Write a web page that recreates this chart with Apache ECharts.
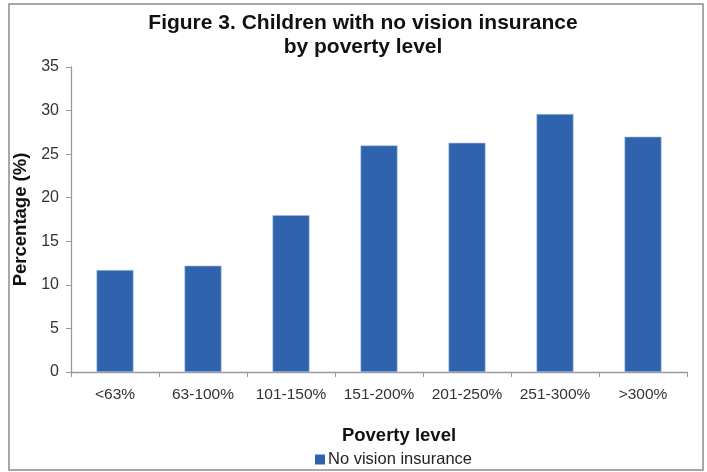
<!DOCTYPE html>
<html>
<head>
<meta charset="utf-8">
<script src="https://cdn.jsdelivr.net/npm/echarts@6/dist/echarts.min.js"></script>
<style>
html,body{margin:0;padding:0;background:#fff;}
#c{width:707px;height:472px;}
</style>
</head>
<body>
<div id="c"></div>
<script>
const categories = ['<63%', '63-100%', '101-150%', '151-200%', '201-250%', '251-300%', '>300%'];
const noVisionInsurance = [11.7, 12.2, 18.0, 26.0, 26.3, 29.6, 27.0];
const seriesName = 'No vision insurance';

const chart = echarts.init(document.getElementById('c'), null, {renderer: 'canvas'});
const font = '"Liberation Sans", Arial, sans-serif';
chart.setOption({
  animation: false,
  textStyle: {fontFamily: font},
  graphic: [{
    type: 'rect',
    shape: {x: 9, y: 4, width: 694, height: 466},
    style: {fill: 'none', stroke: '#8c8c8c', lineWidth: 1.5},
    silent: true
  }],
  title: [{
    text: 'Figure 3. Children with no vision insurance\nby poverty level',
    left: 358, top: 6, textAlign: 'center',
    textStyle: {fontFamily: font, fontSize: 21, fontWeight: 'bold', color: '#111', lineHeight: 24, align: 'center'}
  }, {
    text: 'Poverty level',
    left: 394, top: 421, textAlign: 'center',
    textStyle: {fontFamily: font, fontSize: 18.5, fontWeight: 'bold', color: '#111'}
  }],
  legend: {
    data: [seriesName],
    left: 310, top: 446,
    itemWidth: 10, itemHeight: 10, itemGap: 4,
    icon: 'rect',
    itemStyle: {borderWidth: 0},
    textStyle: {fontFamily: font, fontSize: 16.5, color: '#222', padding: [0,0,0,-2]}
  },
  grid: {left: 71, right: 20, top: 67, bottom: 100, containLabel: false},
  xAxis: {
    type: 'category',
    data: categories,
    axisLine: {lineStyle: {color: '#999', width: 1.3}},
    axisTick: {show: true, alignWithLabel: false, length: 5, lineStyle: {color: '#999'}},
    axisLabel: {fontFamily: font, fontSize: 15.5, color: '#333', margin: 15, interval: 0}
  },
  yAxis: {
    type: 'value',
    min: 0, max: 35, interval: 5,
    name: 'Percentage (%)',
    nameLocation: 'middle', nameGap: 32, nameRotate: 90,
    nameTextStyle: {fontFamily: font, fontSize: 18.5, fontWeight: 'bold', color: '#111'},
    axisLine: {show: true, lineStyle: {color: '#999', width: 1.3}},
    axisTick: {show: true, length: 5, lineStyle: {color: '#999'}},
    splitLine: {show: false},
    axisLabel: {fontFamily: font, fontSize: 16, color: '#333', margin: 12}
  },
  series: [{
    name: seriesName,
    type: 'bar',
    data: noVisionInsurance,
    barWidth: 37,
    itemStyle: {color: '#3063AE', borderColor: '#a9bfe0', borderWidth: 0.6}
  }]
});
</script>
</body>
</html>
